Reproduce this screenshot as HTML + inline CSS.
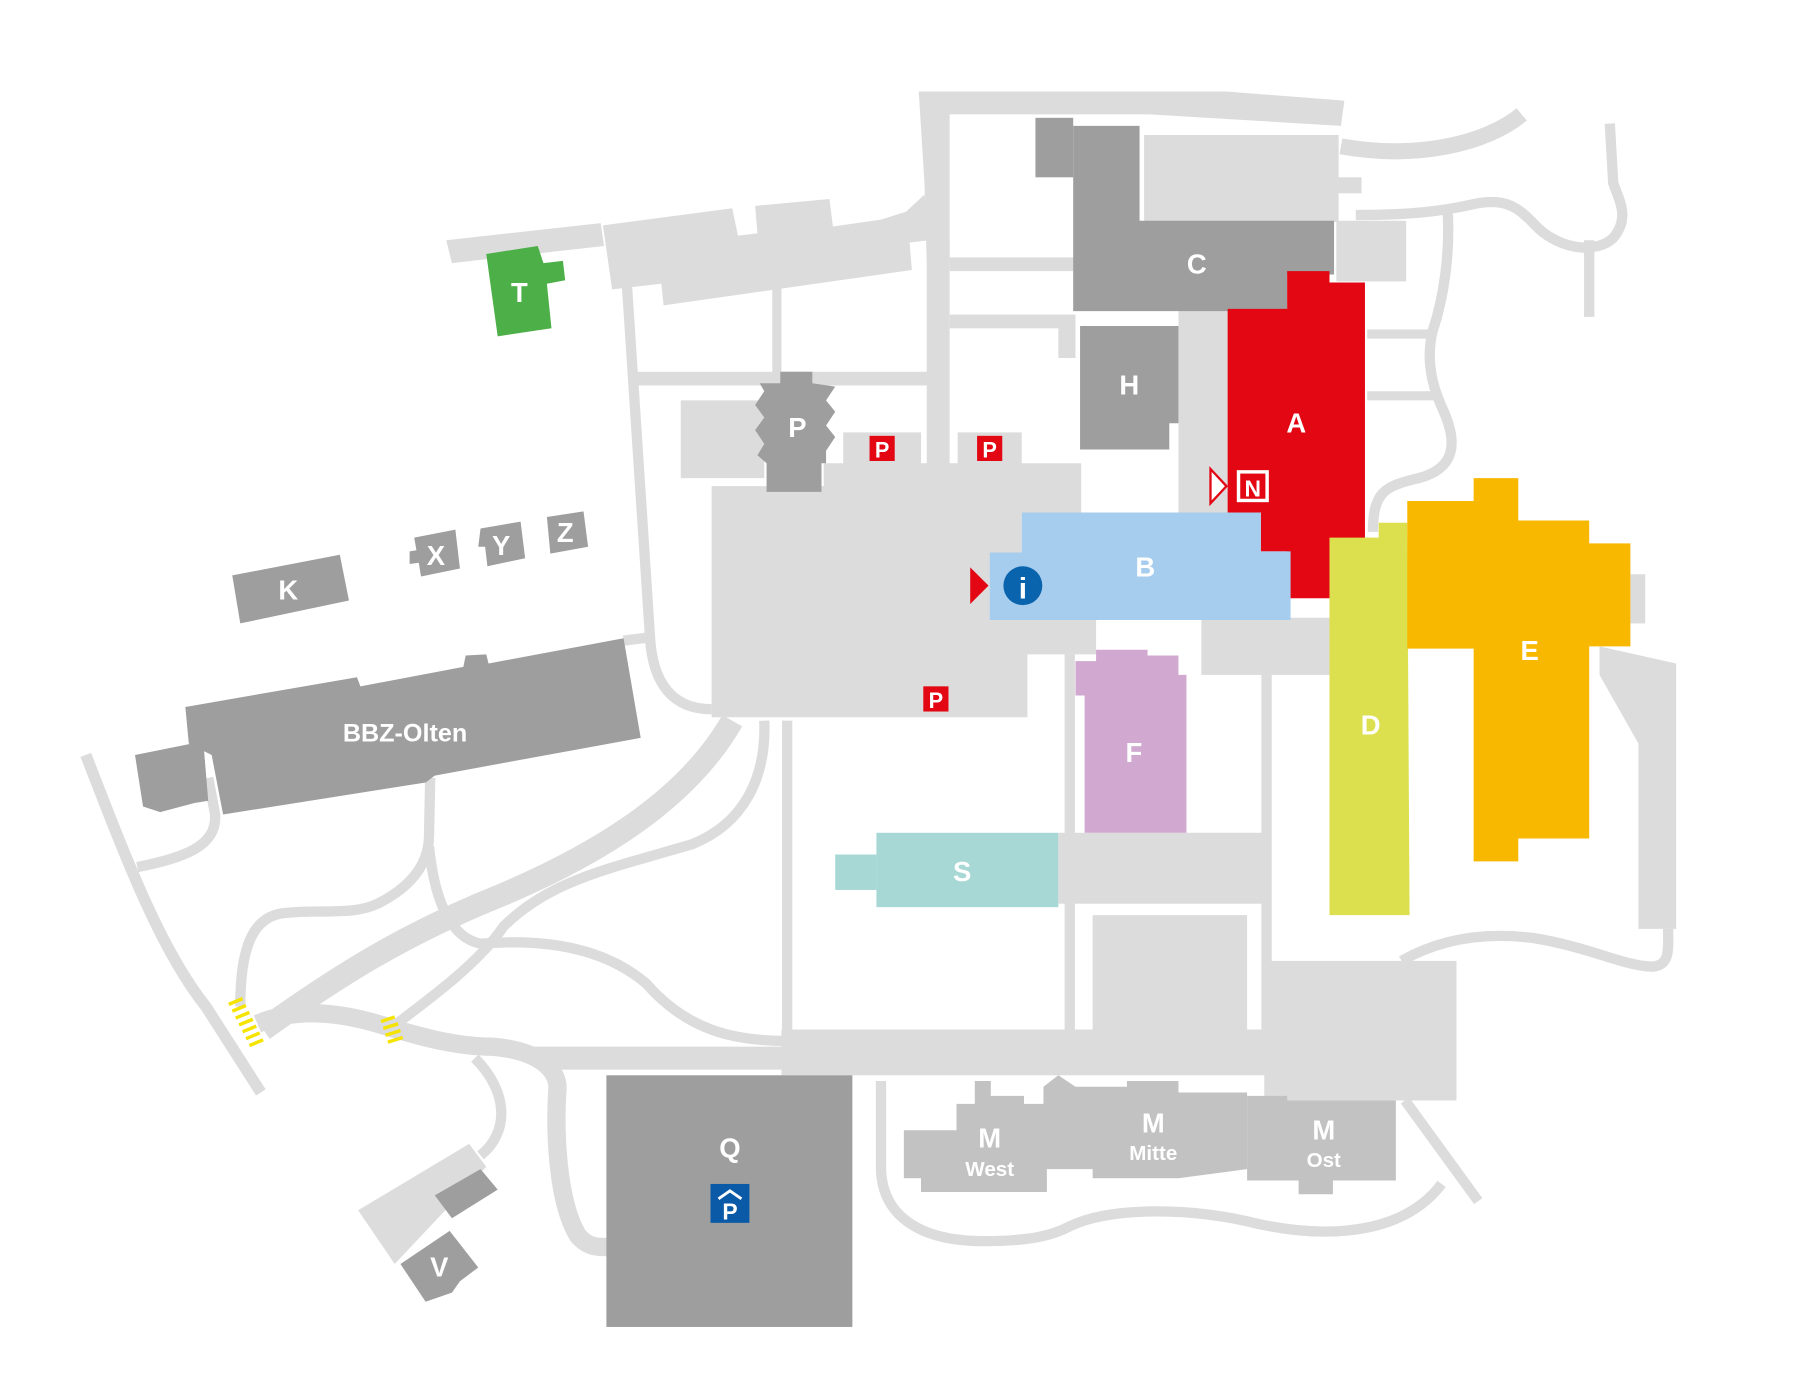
<!DOCTYPE html>
<html><head><meta charset="utf-8"><style>
html,body{margin:0;padding:0;background:#fff;}
svg{display:block;}
text{font-family:"Liberation Sans",sans-serif;font-weight:bold;fill:#fff;text-anchor:middle;}
</style></head><body>
<svg width="1794" height="1383" viewBox="0 0 1568 1209" preserveAspectRatio="none" xmlns="http://www.w3.org/2000/svg">
<g fill="#dcdcdc">
<polygon points="803,80 1072,80 1175,88 1172,110 1005,100 905,100 830,100 830,230 810,230 808,160"/>
<rect x="1000" y="118" width="170" height="76"/>
<rect x="1168" y="193" width="61" height="53"/>
<rect x="1168" y="155" width="22" height="14"/>
<polygon points="390,210 525,195 528,215 395,230"/>
<polygon points="527,197 640,182 645,206 662,204 660,180 725,174 728,198 770,192 792,185 808,170 812,210 795,212 797,236 580,267 578,248 535,253"/>
<rect x="830" y="225" width="110" height="12"/>
<rect x="830" y="275" width="110" height="12"/>
<rect x="925" y="285" width="15" height="28"/>
<rect x="810" y="210" width="20" height="200"/>
<rect x="555" y="325" width="258" height="12"/>
<rect x="675" y="250" width="8" height="78"/>
<rect x="595" y="350" width="73" height="68"/>
<rect x="737" y="378" width="68" height="30"/>
<rect x="837" y="378" width="56" height="30"/>
<polygon points="622,425 720,425 720,405 945,405 945,448 1075,448 1075,270 1030,270 1030,448 893,448 893,483 865,483 865,542 958,542 958,572 898,572 898,627 622,627"/>
<rect x="1050" y="540" width="115" height="50"/>
<rect x="925" y="728" width="185" height="62"/>
<rect x="955" y="800" width="135" height="100"/>
<rect x="1105" y="840" width="168" height="122"/>
<rect x="683" y="900" width="590" height="40"/>
<polygon points="460,915 683,915 683,935 485,935"/>
<polygon points="1398,565 1465,580 1465,812 1432,812 1432,650 1398,590"/>
<rect x="1425" y="502" width="13" height="43"/>
<rect x="1195" y="288" width="55" height="8"/>
<rect x="1195" y="342" width="60" height="8"/>
<polygon points="313,1058 410,1000 425,1020 345,1105"/>
</g>
<g fill="none" stroke="#dcdcdc" stroke-width="9" stroke-linecap="butt">
<path d="M548,250 L568,555 C570,600 590,620 622,620"/>
<path d="M545,560 L570,557"/>
<path d="M1172,128 C1240,140 1300,125 1330,100" stroke-width="14"/>
<path d="M1185,188 C1230,188 1260,185 1290,178 C1320,172 1330,185 1345,200 C1365,218 1395,222 1410,208 C1425,190 1415,175 1410,160 L1407,108"/>
<path d="M1389,210 L1389,277"/>
<path d="M1265,180 C1268,220 1262,260 1252,290 C1245,320 1255,345 1262,360 C1275,390 1270,410 1240,418 C1210,425 1200,430 1200,465"/>
<path d="M75,660 C110,750 140,830 180,880 L228,955" stroke-width="10"/>
<path d="M120,758 C160,750 190,740 188,712 L182,680"/>
<path d="M210,880 C210,830 220,800 250,798 C280,795 310,800 330,790 C360,775 375,755 375,730 L376,680"/>
<path d="M375,740 C380,790 395,820 420,825 C480,820 530,830 565,860 C600,900 640,910 688,910"/>
<path d="M230,900 C300,850 350,820 420,790 C520,750 600,700 640,630" stroke-width="20"/>
<path d="M340,900 C380,870 420,840 440,810 C480,770 530,760 605,738 C650,720 670,680 668,630" stroke-width="9"/>
<path d="M688,630 L688,905"/>
<path d="M935,572 L935,900"/>
<path d="M1107,590 L1107,900"/>
<path d="M225,895 C260,880 300,885 340,898 C370,907 400,915 430,915 C470,918 490,935 487,955 C485,990 487,1050 505,1080 C515,1092 525,1090 535,1090" stroke-width="16"/>
<path d="M415,925 C445,955 445,990 420,1010"/>
<path d="M770,945 L770,1020 C770,1060 800,1085 860,1085 C900,1085 920,1080 935,1072 C970,1055 1040,1055 1100,1070 C1170,1085 1230,1075 1260,1035"/>
<path d="M1228,962 L1292,1050"/>
<path d="M1225,840 C1260,820 1300,815 1340,820 C1390,828 1420,845 1445,845 C1460,843 1458,830 1458,812"/>
</g>
<g fill="#9e9e9e">
<polygon points="938,110 996,110 996,193 1166,193 1166,240 1125,240 1125,272 938,272"/>
<rect x="905" y="103" width="33" height="52"/>
<polygon points="944,285 1030,285 1030,370 1022,370 1022,393 944,393"/>
<polygon points="682,325 710,325 710,335 730,338 722,350 730,360 722,372 730,382 722,394 722,405 718,405 718,430 670,430 670,405 662,398 668,388 660,376 668,365 660,354 668,342 664,335 682,335"/>
<polygon points="203,503 297,485 305,525 210,545"/>
<polygon points="362,470 398,463 402,497 368,504 366,492 358,493 358,482 364,481"/>
<polygon points="420,462 455,456 459,488 426,495 424,478 418,478"/>
<polygon points="478,452 510,447 514,478 481,484"/>
<polygon points="162,618 312,592 315,600 405,583 407,573 425,572 427,580 545,558 560,645 380,678 372,684 195,712 185,660 165,650"/>
<polygon points="118,660 168,650 178,652 182,700 170,702 140,710 125,705"/>
<rect x="530" y="940" width="215" height="220"/>
<polygon points="380,1045 420,1022 435,1040 395,1065"/>
<polygon points="350,1105 393,1076 418,1108 402,1120 395,1130 372,1138"/>
</g>
<g fill="#c2c2c2">
<polygon points="790,988 836,988 836,965 852,965 852,945 866,945 866,958 895,958 895,965 912,965 912,950 925,940 940,950 985,950 985,945 1030,945 1030,955 1090,955 1090,1022 1030,1030 955,1030 955,1022 915,1022 915,1042 805,1042 805,1030 790,1030"/>
<polygon points="1090,958 1125,958 1125,962 1220,962 1220,1032 1165,1032 1165,1044 1135,1044 1135,1032 1090,1032"/>
</g>
<polygon fill="#4caf47" points="425,222 470,215 475,230 492,228 494,245 478,248 482,287 435,294"/>
<polygon fill="#e30613" points="1073,270 1125,270 1125,237 1162,237 1162,247 1193,247 1193,523 1125,523 1125,482 1102,482 1102,448 1073,448"/>
<polygon fill="#a6ccee" points="893,448 1102,448 1102,482 1128,482 1128,542 865,542 865,483 893,483"/>
<polygon fill="#dce04e" points="1162,470 1205,470 1205,457 1230,457 1232,800 1162,800"/>
<polygon fill="#f9b800" points="1230,438 1288,438 1288,418 1327,418 1327,455 1389,455 1389,475 1425,475 1425,565 1389,565 1389,733 1327,733 1327,753 1288,753 1288,567 1230,567"/>
<polygon fill="#d1a8d0" points="940,578 958,578 958,568 1003,568 1003,573 1030,573 1030,590 1037,590 1037,728 948,728 948,608 940,608"/>
<rect fill="#a8d8d6" x="766" y="728" width="159" height="65"/>
<rect fill="#a8d8d6" x="730" y="747" width="36" height="31"/>
<g stroke="#f5e400" stroke-width="3">
<line x1="200" y1="878" x2="212" y2="873"/><line x1="203" y1="884" x2="215" y2="879"/><line x1="206" y1="890" x2="218" y2="885"/><line x1="209" y1="896" x2="221" y2="891"/><line x1="212" y1="902" x2="224" y2="897"/><line x1="215" y1="908" x2="227" y2="903"/><line x1="218" y1="914" x2="230" y2="909"/>
<line x1="333" y1="893" x2="345" y2="889"/><line x1="335" y1="899" x2="348" y2="895"/><line x1="337" y1="905" x2="350" y2="901"/><line x1="339" y1="911" x2="352" y2="907"/>
</g>
<g>
<rect x="760" y="381" width="22" height="22" fill="#e30613"/><text x="771" y="400" font-size="19">P</text>
<rect x="854" y="381" width="22" height="22" fill="#e30613"/><text x="865" y="400" font-size="19">P</text>
<rect x="807" y="600" width="22" height="22" fill="#e30613"/><text x="818" y="619" font-size="19">P</text>
<rect x="1081" y="411" width="28" height="28" fill="#fff"/><rect x="1084" y="414" width="22" height="22" fill="#e30613"/><text x="1095" y="434" font-size="20">N</text>
<polygon points="1058,410 1072,425 1058,440" fill="#fff" stroke="#e30613" stroke-width="2"/>
<polygon points="848,496 864,512 848,528" fill="#e30613"/>
<circle cx="894" cy="512" r="17" fill="#0a64ad"/><text x="894" y="523" font-size="26">i</text>
<rect x="621" y="1035" width="34" height="34" fill="#0a5aa8"/>
<path d="M628,1048 L638,1041 L648,1048" fill="none" stroke="#fff" stroke-width="2.5"/>
<text x="638" y="1066" font-size="20">P</text>
</g>
<g font-size="24">
<text x="1046" y="239">C</text>
<text x="987" y="345">H</text>
<text x="1133" y="378">A</text>
<text x="1001" y="504">B</text>
<text x="1198" y="642">D</text>
<text x="1337" y="577">E</text>
<text x="991" y="666">F</text>
<text x="841" y="770">S</text>
<text x="697" y="382">P</text>
<text x="454" y="264">T</text>
<text x="252" y="524">K</text>
<text x="381" y="494">X</text>
<text x="438" y="485">Y</text>
<text x="494" y="474">Z</text>
<text x="354" y="648" font-size="22">BBZ-Olten</text>
<text x="638" y="1012">Q</text>
<text x="384" y="1116">V</text>
<text x="865" y="1003">M</text><text x="865" y="1028" font-size="18">West</text>
<text x="1008" y="990">M</text><text x="1008" y="1014" font-size="18">Mitte</text>
<text x="1157" y="996">M</text><text x="1157" y="1020" font-size="18">Ost</text>
</g>
</svg>
</body></html>
